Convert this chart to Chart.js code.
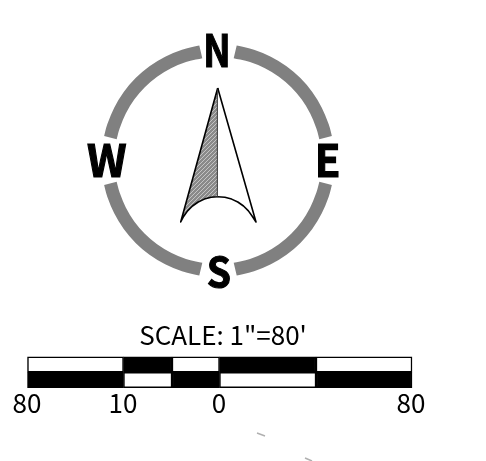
<!DOCTYPE html>
<html>
<head>
<meta charset="utf-8">
<style>
    html, body { margin: 0; padding: 0; background: #fff; }
    canvas { display: block; }
</style>
<script src="https://cdn.jsdelivr.net/npm/chart.js@4/dist/chart.umd.min.js"></script>
</head>
<body>
<canvas id="compass" width="486" height="461"></canvas>
<script>
const ringNE = [[235.2, 51.9], [252, 55.9], [267.9, 62.5], [282.7, 71.5], [295.8, 82.7], [307, 95.8], [316, 110.6], [322.6, 126.5], [325.6, 137.6]];
const ringSE = [[325.6, 183.4], [322.6, 194.5], [316, 210.4], [307, 225.2], [295.8, 238.3], [282.7, 249.5], [267.9, 258.5], [252, 265.1], [235.2, 269.1]];
const ringSW = [[200.8, 269.1], [184, 265.1], [168.1, 258.5], [153.3, 249.5], [140.2, 238.3], [129, 225.2], [120, 210.4], [113.4, 194.5], [110.4, 183.4]];
const ringNW = [[110.4, 137.6], [113.4, 126.5], [120, 110.6], [129, 95.8], [140.2, 82.7], [153.3, 71.5], [168.1, 62.5], [184, 55.9], [200.8, 51.9]];

const arrowLeft = [[217.7, 88], [180.7, 222], [183.6, 216.5], [187.6, 210.9], [192.5, 206], [198.2, 202], [204.4, 199.1], [211.1, 197.3], [217.7, 196.7], [217.7, 88]];
const arrowRight = [[217.7, 88], [256, 222], [252.4, 216.5], [248.4, 210.9], [243.5, 206], [237.8, 202], [231.6, 199.1], [224.9, 197.3], [217.7, 196.7]];

const scaleBreaks = [27.5, 123.5, 172, 219.5, 316, 412];
const scaleRowTop = 364.5;
const scaleRowBottom = 380;
const topRowFill = ['#ffffff', '#000000', '#ffffff', '#000000', '#ffffff'];
const bottomRowFill = ['#000000', '#ffffff', '#000000', '#ffffff', '#000000'];

const tickLabels = ['80', '10', '0', '80'];
const tickValues = [27, 123, 219, 411];

const strayMarkA = [[257, 433], [265, 436]];
const strayMarkB = [[305, 458], [312, 461]];

// Cardinal letters: left, right, top and bottom of each glyph
const cardinalLabels = ['N', 'E', 'S', 'W'];
const cardinalLeft = [206.5, 318.5, 207.5, 87];
const cardinalRight = [228, 338.5, 229.5, 126.5];
const cardinalTop = [34, 143.5, 255.5, 143.5];
const cardinalBottom = [66.5, 176.5, 287.5, 176.5];

const scaleTitle = 'SCALE: 1"=80\'';

function toPoints(list) {
    return list.map(p => ({ x: p[0], y: p[1] }));
}

function ringDataset(list) {
    return {
        type: 'line',
        data: toPoints(list),
        borderColor: '#808080',
        borderWidth: 13,
        borderCapStyle: 'butt',
        tension: 0.4,
        pointRadius: 0,
        fill: false,
        clip: false
    };
}

function arrowDataset(list, fillStyle) {
    return {
        type: 'line',
        data: toPoints(list),
        borderColor: '#000000',
        borderWidth: 1.6,
        borderJoinStyle: 'round',
        backgroundColor: fillStyle,
        pointRadius: 0,
        tension: 0,
        fill: 'shape',
        clip: false
    };
}

function strayDataset(list) {
    return {
        type: 'line',
        data: toPoints(list),
        borderColor: '#b0b0b0',
        borderWidth: 1.5,
        pointRadius: 0,
        fill: false,
        clip: false
    };
}

function rowDataset(rowY, fills) {
    const cells = [];
    for (let i = 0; i < fills.length; i++) {
        cells.push({ x: [scaleBreaks[i], scaleBreaks[i + 1]], y: rowY });
    }
    return {
        type: 'bar',
        indexAxis: 'y',
        data: cells,
        backgroundColor: fills,
        borderColor: '#000000',
        borderWidth: 1.5,
        borderSkipped: false,
        barThickness: 15.5,
        grouped: false
    };
}

// Diagonal hatch for the shaded half of the arrow
function hatchPattern() {
    const tile = document.createElement('canvas');
    tile.width = 4;
    tile.height = 4;
    const c = tile.getContext('2d');
    c.fillStyle = '#8a8a8a';
    c.fillRect(0, 0, 4, 4);
    c.strokeStyle = '#c4c4c4';
    c.lineWidth = 1;
    c.beginPath();
    c.moveTo(0, 4);
    c.lineTo(4, 0);
    c.stroke();
    return c.createPattern(tile, 'repeat');
}

// Squeeze a glyph into the box it has in the picture
function drawFitted(ctx, text, left, right, top, bottom) {
    ctx.save();
    ctx.textAlign = 'left';
    const m = ctx.measureText(text);
    const w = m.actualBoundingBoxLeft + m.actualBoundingBoxRight;
    const h = m.actualBoundingBoxAscent + m.actualBoundingBoxDescent;
    ctx.translate(left, top);
    ctx.scale((right - left) / w, (bottom - top) / h);
    ctx.lineWidth = 1.2;
    ctx.strokeStyle = '#000000';
    ctx.fillText(text, m.actualBoundingBoxLeft, m.actualBoundingBoxAscent);
    ctx.strokeText(text, m.actualBoundingBoxLeft, m.actualBoundingBoxAscent);
    ctx.restore();
}

const textPlugin = {
    id: 'compassText',
    afterDatasetsDraw(chart) {
        const ctx = chart.ctx;
        const xs = chart.scales.x;
        const ys = chart.scales.y;
        ctx.save();
        ctx.fillStyle = '#000000';
        ctx.textAlign = 'center';
        ctx.textBaseline = 'alphabetic';

        ctx.font = 'bold 46px "Noto Sans CJK JP"';
        cardinalLabels.forEach((t, i) => {
            drawFitted(ctx, t,
                xs.getPixelForValue(cardinalLeft[i]), xs.getPixelForValue(cardinalRight[i]),
                ys.getPixelForValue(cardinalTop[i]), ys.getPixelForValue(cardinalBottom[i]));
        });

        ctx.font = '26px "Noto Sans CJK JP"';
        ctx.fillText(scaleTitle, xs.getPixelForValue(223), ys.getPixelForValue(345));
        tickLabels.forEach((t, i) => {
            ctx.fillText(t, xs.getPixelForValue(tickValues[i]), ys.getPixelForValue(413));
        });
        ctx.restore();
    }
};

new Chart(document.getElementById('compass'), {
    data: {
        datasets: [
            ringDataset(ringNE),
            ringDataset(ringSE),
            ringDataset(ringSW),
            ringDataset(ringNW),
            arrowDataset(arrowRight, '#ffffff'),
            arrowDataset(arrowLeft, hatchPattern()),
            rowDataset(scaleRowTop, topRowFill),
            rowDataset(scaleRowBottom, bottomRowFill),
            strayDataset(strayMarkA),
            strayDataset(strayMarkB)
        ]
    },
    options: {
        responsive: false,
        animation: false,
        layout: { padding: 0 },
        plugins: {
            legend: { display: false },
            tooltip: { enabled: false }
        },
        scales: {
            x: { type: 'linear', min: 0, max: 486, display: false, offset: false },
            y: { type: 'linear', min: 0, max: 461, reverse: true, display: false, offset: false }
        }
    },
    plugins: [textPlugin]
});
</script>
</body>
</html>
